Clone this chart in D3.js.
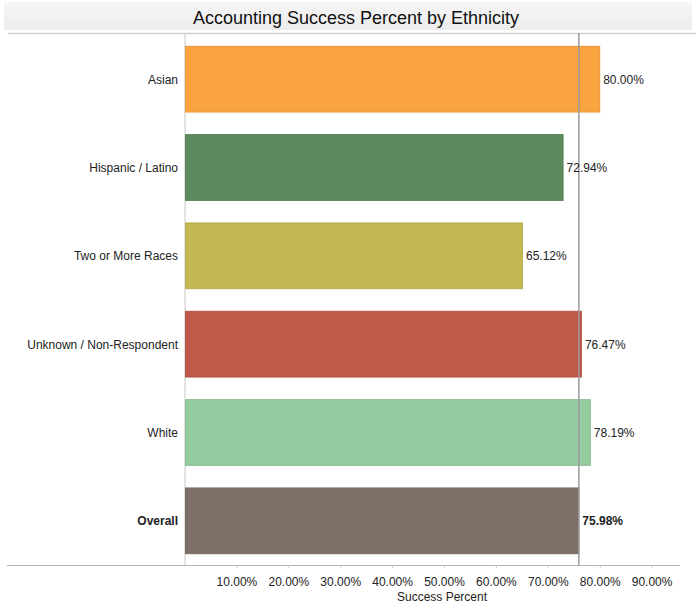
<!DOCTYPE html>
<html>
<head>
<meta charset="utf-8">
<script src="https://cdn.jsdelivr.net/npm/d3@7"></script>
<style>
  html, body { margin: 0; padding: 0; background: #fff; }
  svg { display: block; font-family: Arial, "Liberation Sans", sans-serif; }
</style>
</head>
<body>
<svg id="chart" width="696" height="605"></svg>
<script>
// Success percent by ethnicity, with the overall rate as the last row
const categories = ["Asian", "Hispanic / Latino", "Two or More Races", "Unknown / Non-Respondent", "White", "Overall"];
const successPercent = [80.00, 72.94, 65.12, 76.47, 78.19, 75.98];
const barColors = ["#f9a43f", "#5b8a5d", "#c4b852", "#bf5a49", "#95cc9f", "#7e7068"];
const tickValues = [10, 20, 30, 40, 50, 60, 70, 80, 90];
const overallValue = 75.98;

const svg = d3.select("#chart");
const W = 696, H = 605;
const plot = { left: 184.5, top: 33, bandTop: 35, bottom: 565 };

// Title band
const grad = svg.append("defs").append("linearGradient")
  .attr("id", "titleBand").attr("x1", 0).attr("x2", 0).attr("y1", 0).attr("y2", 1);
grad.append("stop").attr("offset", "0%").attr("stop-color", "#f6f6f6");
grad.append("stop").attr("offset", "100%").attr("stop-color", "#ececec");
svg.append("rect").attr("x", 4).attr("y", 2).attr("width", 688).attr("height", 28)
  .attr("fill", "url(#titleBand)");
svg.append("text")
  .attr("x", 356).attr("y", 24)
  .attr("text-anchor", "middle")
  .attr("font-size", 18)
  .attr("fill", "#111")
  .text("Accounting Success Percent by Ethnicity");
svg.append("line").attr("x1", 8).attr("x2", W).attr("y1", 33.5).attr("y2", 33.5)
  .attr("stroke", "#cfcfcf").attr("stroke-width", 1.5);

// Scales
const x = d3.scaleLinear().domain([0, 100]).range([plot.left, plot.left + 519]);
const y = d3.scaleBand().domain(categories).range([plot.bandTop, plot.bottom])
  .paddingInner(0.256).paddingOuter(0.128);

// Plot frame: left divider and bottom line
svg.append("line").attr("x1", plot.left + 0.5).attr("x2", plot.left + 0.5)
  .attr("y1", plot.top).attr("y2", plot.bottom)
  .attr("stroke", "#c8c8c8").attr("stroke-width", 1);
svg.append("line").attr("x1", 7).attr("x2", 680)
  .attr("y1", plot.bottom + 0.5).attr("y2", plot.bottom + 0.5)
  .attr("stroke", "#b5b5b5").attr("stroke-width", 1);

// Bars
const rows = categories.map((c, i) => ({ cat: c, value: successPercent[i], color: barColors[i] }));
svg.append("g").selectAll("rect").data(rows).join("rect")
  .attr("x", x(0) + 1)
  .attr("y", d => y(d.cat))
  .attr("width", d => x(d.value) - x(0) - 1)
  .attr("height", y.bandwidth())
  .attr("fill", d => d.color)
  .attr("stroke", d => d3.color(d.color).darker(0.2))
  .attr("stroke-width", 1);

// Reference line at the overall rate
svg.append("line")
  .attr("x1", x(overallValue)).attr("x2", x(overallValue))
  .attr("y1", plot.top).attr("y2", plot.bottom)
  .attr("stroke", "#9a9a9a").attr("stroke-width", 1.5);

// Category labels
svg.append("g").selectAll("text").data(rows).join("text")
  .attr("x", 178)
  .attr("y", d => y(d.cat) + y.bandwidth() / 2 + 4.5)
  .attr("text-anchor", "end")
  .attr("font-size", 12)
  .attr("font-weight", d => d.cat === "Overall" ? "bold" : "normal")
  .attr("fill", "#222")
  .text(d => d.cat);

// Value labels
svg.append("g").selectAll("text").data(rows).join("text")
  .attr("x", d => x(d.value) + 3.5)
  .attr("y", d => y(d.cat) + y.bandwidth() / 2 + 4.5)
  .attr("font-size", 12)
  .attr("font-weight", d => d.cat === "Overall" ? "bold" : "normal")
  .attr("fill", "#222")
  .text(d => d.value.toFixed(2) + "%");

// Bottom axis
const axis = d3.axisBottom(x).tickValues(tickValues)
  .tickFormat(d => d.toFixed(2) + "%").tickSize(3).tickPadding(9);
const gAxis = svg.append("g").attr("transform", `translate(0,${plot.bottom})`).call(axis);
gAxis.select(".domain").remove();
gAxis.selectAll(".tick line").attr("stroke", "#c8c8c8");
gAxis.selectAll(".tick text").attr("font-size", 12).attr("fill", "#222")
  .attr("font-family", "Arial, 'Liberation Sans', sans-serif");

svg.append("text")
  .attr("x", 442).attr("y", 601)
  .attr("text-anchor", "middle")
  .attr("font-size", 12)
  .attr("fill", "#222")
  .text("Success Percent");
</script>
</body>
</html>
